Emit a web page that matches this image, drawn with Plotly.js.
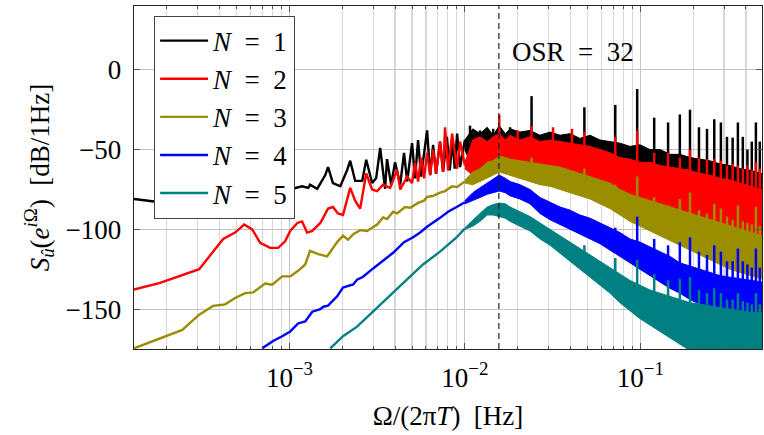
<!DOCTYPE html>
<html><head><meta charset="utf-8">
<script src="https://cdn.plot.ly/plotly-3.0.1.min.js"></script>
<style>html,body{margin:0;padding:0;background:#fff}</style>
</head><body><div id="chart" style="width:764px;height:435px"></div>
<script>
// ---------- data ----------
const OSR = 32;
const seriesNames = ['<i>N</i>\u2002=\u20021','<i>N</i>\u2002=\u20022','<i>N</i>\u2002=\u20023','<i>N</i>\u2002=\u20024','<i>N</i>\u2002=\u20025'];
const seriesColors = ['#000000','#ff0000','#9a8d00','#0000ff','#008080'];

// low-frequency (sparse) part of each spectrum
const f1 = [1.30e-4,1.69e-4,2.45e-4,4.0e-4,6.0e-4,8.0e-4,1.0e-3,1.18e-3,1.28e-3,1.31e-3,1.44e-3,1.60e-3,1.66e-3,1.77e-3,1.95e-3,2.13e-3,2.22e-3,2.37e-3,2.60e-3,2.74e-3,2.96e-3,3.12e-3,3.29e-3,3.51e-3,3.60e-3,3.80e-3,4.00e-3,4.28e-3,4.50e-3,4.69e-3,5.00e-3,5.20e-3,5.41e-3,5.63e-3,6.09e-3,6.34e-3,6.59e-3,6.85e-3,7.22e-3,7.51e-3,7.90e-3,8.20e-3,8.50e-3,8.75e-3,9.03e-3,9.39e-3,1.0e-2];
const y1 = [-81,-82.5,-82,-80,-78,-76,-75,-73,-74,-72,-74.6,-66,-61,-71,-73,-63,-57,-69.6,-69.6,-56.4,-71,-68,-49,-74.6,-56,-72,-58,-72,-52,-70,-46,-68,-44,-67,-38,-66,-47,-65,-45,-64,-42,-63,-44,-62,-40,-61,-44];

const f2 = [1.30e-4,1.83e-4,3.06e-4,3.67e-4,4.19e-4,4.90e-4,5.52e-4,6.13e-4,6.81e-4,7.76e-4,8.62e-4,9.45e-4,1.01e-3,1.11e-3,1.18e-3,1.26e-3,1.35e-3,1.50e-3,1.66e-3,1.77e-3,1.89e-3,2.02e-3,2.16e-3,2.22e-3,2.37e-3,2.53e-3,2.74e-3,2.96e-3,3.16e-3,3.42e-3,3.75e-3,4.11e-3,4.28e-3,4.69e-3,5.00e-3,5.20e-3,5.41e-3,5.63e-3,5.85e-3,6.09e-3,6.34e-3,6.59e-3,6.85e-3,7.22e-3,7.51e-3,7.71e-3,8.02e-3,8.46e-3,9.03e-3,9.39e-3,1.0e-2];
const y2 = [-137.7,-133.6,-125,-114,-106,-102,-97,-100,-108.4,-111.5,-111.6,-107.5,-101,-96,-95,-102,-101,-96,-87,-86,-90,-91,-78,-74,-82,-87,-65,-75,-76,-72,-74,-62.7,-75,-67,-71,-58,-70,-55,-68,-52,-66,-50,-65,-45,-64,-36,-63,-40,-62,-45,-60];

const f3 = [1.30e-4,2.45e-4,3.06e-4,3.67e-4,4.30e-4,4.90e-4,5.59e-4,6.21e-4,7.27e-4,7.97e-4,9.09e-4,1.01e-3,1.12e-3,1.23e-3,1.31e-3,1.46e-3,1.64e-3,1.87e-3,2.02e-3,2.16e-3,2.31e-3,2.53e-3,2.77e-3,3.00e-3,3.16e-3,3.42e-3,3.60e-3,3.90e-3,4.11e-3,4.56e-3,4.88e-3,5.41e-3,5.85e-3,6.09e-3,6.59e-3,7.22e-3,7.71e-3,8.46e-3,9.03e-3,1.0e-2];
const y3 = [-174.6,-163,-153.5,-148,-147,-143,-140,-139.5,-134,-134.7,-129.5,-129.5,-126,-122,-113.5,-115.5,-117,-108,-104,-106.5,-103,-100.5,-101,-98.5,-97,-92.5,-93.5,-89,-90,-86,-86.5,-83.4,-82,-79.7,-79,-77,-76,-73,-73.5,-70];

const f4 = [6.99e-4,8.07e-4,9.09e-4,1.01e-3,1.12e-3,1.23e-3,1.35e-3,1.50e-3,1.56e-3,1.66e-3,1.87e-3,2.02e-3,2.08e-3,2.31e-3,2.43e-3,2.63e-3,3.00e-3,3.29e-3,3.90e-3,4.50e-3,5.07e-3,5.56e-3,6.09e-3,7.22e-3,8.02e-3,9.03e-3,1.0e-2];
const y4 = [-174.6,-170,-167,-164,-159,-157.7,-151.6,-150,-148.5,-147.8,-142,-136.5,-136,-134.5,-131.5,-129.7,-124.5,-121,-114.7,-108,-105,-102,-98.4,-92.8,-89,-85.8,-83];

const f5 = [1.71e-3,2.02e-3,2.43e-3,3.00e-3,3.60e-3,3.90e-3,4.69e-3,5.77e-3,7.22e-3,9.03e-3,1.0e-2];
const y5 = [-174.6,-167,-161,-151.6,-143,-139.6,-131.4,-122,-114,-104.7,-99.5];

// dense (high-frequency) part: upper and lower envelope of each spectrum
const bandF = [1.00e-2,1.11e-2,1.22e-2,1.34e-2,1.45e-2,1.57e-2,1.70e-2,1.81e-2,2.06e-2,2.35e-2,2.68e-2,3.06e-2,3.49e-2,3.98e-2,4.53e-2,5.17e-2,5.89e-2,6.72e-2,7.66e-2,8.73e-2,9.96e-2,0.1135,0.1295,0.148,0.168,0.192,0.219,0.249,0.2845,0.324,0.370,0.422,0.494];
const top1 = [-44,-37,-40,-36,-41,-35,-40,-37,-39,-38,-41,-39,-41,-40,-43,-41,-44,-45,-46,-48,-47,-50,-50,-53,-53,-55,-56,-57,-59,-60,-62,-63,-65];
const bot1 = [-50,-63,-62,-62,-62,-60,-60,-60,-60,-60,-61,-62,-63,-64,-65,-66,-67,-69,-71,-72,-73,-74,-75,-76,-77,-79,-80,-81,-82,-83,-84,-85,-86];
const top2 = [-58,-44,-42,-45,-42,-40,-44,-41,-44,-42,-45,-44,-45,-46,-47,-48,-50,-52,-55,-56,-58,-58,-60,-61,-62,-63,-65,-66,-68,-69,-71,-73,-75];
const bot2 = [-62,-66,-66,-65,-64,-64,-64,-64,-66,-66,-67,-68,-70,-71,-72,-74,-76,-78,-80,-82,-84,-86,-88,-90,-92,-94,-96,-98,-100,-102,-104,-106,-108];
const top3 = [-69,-64,-62,-58,-57,-54,-55,-56,-57,-58,-59,-60,-61,-63,-65,-67,-69,-71,-75,-78,-80,-82,-84,-86,-88,-90,-92,-94,-96,-98,-100,-102,-104];
const bot3 = [-71,-72,-70,-68,-66,-64,-65,-66,-68,-70,-72,-73,-75,-77,-79,-81,-84,-87,-91,-95,-98,-101,-104,-107,-110,-113,-116,-119,-122,-125,-127,-129,-131];
const top4 = [-82,-77,-74,-71,-69,-66,-68,-70,-72,-75,-80,-83,-86,-88,-91,-93,-96,-99,-102,-106,-108,-111,-114,-117,-121,-123,-125,-127,-129,-130,-131,-132,-133];
const bot4 = [-84,-82,-80,-78,-77,-76,-77,-79,-81,-84,-90,-94,-97,-100,-103,-106,-109,-113,-117,-121,-125,-129,-133,-137,-140,-144,-147,-150,-153,-156,-158,-160,-162];
const top5 = [-99,-94,-90,-86,-84.5,-83.5,-84,-86,-89,-92,-96,-100,-104,-108,-112,-116,-120,-124,-128,-132,-135,-138,-140,-142,-144,-146,-147,-148,-149,-150,-151,-152,-152];
const bot5 = [-100,-98,-95,-91,-91,-92,-93,-95,-98,-101,-106,-110,-115,-120,-125,-130,-135,-140,-146,-151,-156,-160,-164,-168,-172,-176,-180,-180,-180,-180,-180,-180,-180];

// tonal spikes (frequency, top and foot of each spike)
const spikeF = [0.024,0.048,0.072,0.096,0.12,0.144,0.168,0.192,0.216,0.24,0.264,0.288,0.312,0.336,0.36,0.384,0.408,0.432,0.456,0.48];
const sTop1 = [-16.5,-23.5,-22,-12,-30,-33,-28,-25,-36,-37,-31,-33,-42,-42.5,-33,-42,-50,-45,-33,-45];
const sBot1 = [-60,-65,-69,-72,-74,-76,-77,-79,-80,-80,-81,-82,-82,-83,-84,-84,-85,-85,-85,-86];
const sTop2 = [-35,-39,-42,-38,-52,-52,-55,-50,-55,-56,-56,-57,-60,-59,-60,-62,-60,-63,-58,-62];
const sBot2 = [-66,-72,-78,-83,-86,-89,-92,-94,-96,-97,-98,-100,-101,-102,-104,-104,-105,-106,-106,-107];
const sTop3 = [-55,-62,-72,-67,-80,-85,-81,-77,-88,-90,-84,-87,-92,-94,-85,-95,-96,-97,-86,-98];
const sBot3 = [-70,-79,-88,-96,-101,-106,-110,-113,-116,-117,-119,-121,-123,-124,-126,-127,-128,-129,-130,-131];
const sTop4 = [-76,-95,-99,-92,-106,-110,-108,-105,-114,-116,-110,-114,-120,-120,-112,-120,-122,-124,-112,-124];
const sBot4 = [-84,-101,-112,-122,-127,-133,-139,-143,-147,-148,-150,-152,-154,-155,-157,-158,-159,-160,-161,-162];
const sTop5 = [-95,-110,-118,-119,-128,-132,-131,-130,-138,-140,-137,-140,-144,-144,-140,-145,-146,-147,-140,-147];
const sBot5 = [-101,-124,-141,-154,-160,-166,-172,-176,-179,-180,-180,-180,-180,-180,-180,-180,-180,-180,-180,-180];
// additional isolated spikes
const xF1 = [1.07e-2,1.22e-2,1.45e-2,1.81e-2], xTop1 = [-35,-38,-37,-36], xBot1 = [-62,-62,-62,-60];
const xF2 = [1.57e-2,2.0e-2,3.18e-2,4.08e-2], xTop2 = [-28,-38,-36,-37], xBot2 = [-64,-66,-68,-71];

// tick labels
const xTickVals = [1e-3,1e-2,1e-1];
const xTickText = ['10<sup>\u22123</sup>','10<sup>\u22122</sup>','10<sup>\u22121</sup>'];
const yTickVals = [-150,-100,-50,0];
const yTickText = ['\u2212150','\u2212100','\u221250','0'];

// ---------- build traces ----------
const lines = [[f1,y1],[f2,y2],[f3,y3],[f4,y4],[f5,y5]];
const bands = [[top1,bot1],[top2,bot2],[top3,bot3],[top4,bot4],[top5,bot5]];
const spikes = [[sTop1,sBot1],[sTop2,sBot2],[sTop3,sBot3],[sTop4,sBot4],[sTop5,sBot5]];
const extras = [[xF1,xTop1,xBot1],[xF2,xTop2,xBot2],null,null,null];

function segs(fs, tops, bots){
  const x=[], y=[];
  for(let i=0;i<fs.length;i++){ x.push(fs[i],fs[i],null); y.push(bots[i],tops[i],null); }
  return {x,y};
}

const traces = [];
for(let s=0;s<5;s++){
  const c = seriesColors[s];
  traces.push({x:lines[s][0], y:lines[s][1], type:'scatter', mode:'lines', name:seriesNames[s],
    line:{color:c, width:2.4}});
  const [tp,bt] = bands[s];
  traces.push({x:bandF.concat(bandF.slice().reverse()), y:tp.concat(bt.slice().reverse()),
    type:'scatter', mode:'lines', fill:'toself', fillcolor:c, line:{color:c, width:1},
    showlegend:false, hoverinfo:'skip'});
  const sp = segs(spikeF, spikes[s][0], spikes[s][1]);
  traces.push({x:sp.x, y:sp.y, type:'scatter', mode:'lines', line:{color:c, width:2.5},
    showlegend:false, hoverinfo:'skip'});
  if(extras[s]){
    const ex = segs(extras[s][0], extras[s][1], extras[s][2]);
    traces.push({x:ex.x, y:ex.y, type:'scatter', mode:'lines', line:{color:c, width:2.5},
      showlegend:false, hoverinfo:'skip'});
  }
}

const fontFam = "Liberation Serif";
const layout = {
  width:764, height:435,
  margin:{l:134, r:2, t:6, b:86},
  paper_bgcolor:'#fff', plot_bgcolor:'#fff',
  font:{family:fontFam, size:27, color:'#000'},
  showlegend:true,
  xaxis:{type:'log', range:[Math.log10(1.3e-4), Math.log10(0.494)],
    tickmode:'array', tickvals:xTickVals, ticktext:xTickText,
    tickfont:{family:fontFam, size:27},
    ticks:'inside', ticklen:6, tickcolor:'#555', tickwidth:1,
    showgrid:true, gridcolor:'#c4c4c4', gridwidth:1.2,
    minor:{dtick:'D1', showgrid:true, gridcolor:'#d8d8d8', gridwidth:1.2, ticks:'inside', ticklen:3, tickcolor:'#555'},
    showline:true, linecolor:'#222', linewidth:1.3, mirror:'ticks', zeroline:false,
    ticklabelstandoff:4,
    title:{text:'\u03a9/(2\u03c0<i>T</i>)\u2002[Hz]', font:{family:fontFam, size:27}, standoff:14}},
  yaxis:{range:[-175,40], tickmode:'array', tickvals:yTickVals, ticktext:yTickText,
    tickfont:{family:fontFam, size:27},
    ticks:'inside', ticklen:6, tickcolor:'#555', tickwidth:1,
    showgrid:true, gridcolor:'#c4c4c4', gridwidth:1.2, zeroline:false,
    showline:true, linecolor:'#222', linewidth:1.3, mirror:'ticks',
    ticklabelstandoff:6,
    title:{text:'<i>S</i><sub><i>\u00fb</i></sub>(<i>e</i><sup><i>i</i>\u03a9</sup>)\u2002[dB/1Hz]', font:{family:fontFam, size:27}, standoff:8}},
  legend:{x:0.032, y:0.972, xanchor:'left', yanchor:'top', bgcolor:'#fff',
    bordercolor:'#444', borderwidth:1, font:{family:fontFam, size:27}, traceorder:'normal',
    itemwidth:48, tracegroupgap:0},
  shapes:[{type:'line', xref:'x', yref:'paper', x0:0.5/OSR, x1:0.5/OSR, y0:0, y1:1,
    line:{color:'#222', width:1.2, dash:'6px,4px'}, layer:'above'}],
  annotations:[{xref:'x', yref:'y', x:Math.log10(0.0181), y:11, xanchor:'left', yanchor:'middle',
    text:'OSR\u2002=\u2002' + OSR, showarrow:false, font:{family:fontFam, size:27}}]
};

Plotly.newPlot('chart', traces, layout, {staticPlot:true, displayModeBar:false});
</script>
</body></html>
